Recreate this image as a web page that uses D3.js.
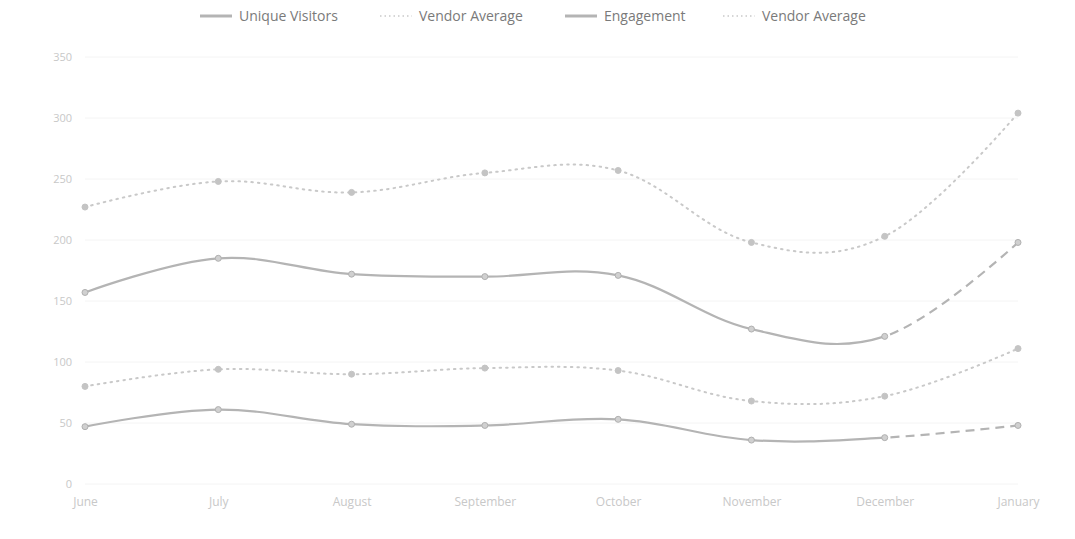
<!DOCTYPE html>
<html>
<head>
<meta charset="utf-8">
<script src="https://cdn.jsdelivr.net/npm/d3@7/dist/d3.min.js"></script>
<style>
  html, body { margin: 0; padding: 0; background: #fff; }
  svg { display: block; font-family: "Open Sans", "DejaVu Sans", sans-serif; }
</style>
</head>
<body>
<svg id="chart" width="1075" height="539"></svg>
<script>
const months = ["June", "July", "August", "September", "October", "November", "December", "January"];
const uniqueVisitors = [47, 61, 49, 48, 53, 36, 38, 48];
const uniqueVendorAvg = [80, 94, 90, 95, 93, 68, 72, 111];
const engagement = [157, 185, 172, 170, 171, 127, 121, 198];
const engagementVendorAvg = [227, 248, 239, 255, 257, 198, 203, 304];
const yTicks = [0, 50, 100, 150, 200, 250, 300, 350];
const legendLabels = ["Unique Visitors", "Vendor Average", "Engagement", "Vendor Average"];

const svg = d3.select("#chart");
const plotLeft = 85, plotRight = 1018, plotTop = 57, plotBottom = 484;

const x = d3.scalePoint().domain(months).range([plotLeft, plotRight]);
const y = d3.scaleLinear().domain([0, 350]).range([plotBottom, plotTop]);

// grid
svg.append("g").selectAll("line").data(yTicks).join("line")
  .attr("x1", plotLeft).attr("x2", plotRight)
  .attr("y1", d => y(d)).attr("y2", d => y(d))
  .attr("stroke", "#f4f4f4").attr("stroke-width", 1);

// y axis labels
const yAxis = d3.axisLeft(y).tickValues(yTicks).tickSize(0).tickPadding(0);
const yg = svg.append("g").attr("transform", `translate(${plotLeft - 13},0)`).call(yAxis)
  .attr("font-family", "Open Sans, sans-serif");
yg.select(".domain").remove();
yg.selectAll("text").attr("fill", "#c8c8c8").style("font-size", "11px").attr("dy", "0.32em");

// x axis labels
const xAxis = d3.axisBottom(x).tickSize(0).tickPadding(0);
const xg = svg.append("g").attr("transform", `translate(0,${plotBottom + 13})`).call(xAxis)
  .attr("font-family", "Open Sans, sans-serif");
xg.select(".domain").remove();
xg.selectAll("text").attr("fill", "#c8c8c8").style("font-size", "12px").attr("dy", "0.71em");

const defs = svg.append("defs");
const splitX = x("December");
defs.append("clipPath").attr("id", "clipA").append("rect")
  .attr("x", 0).attr("y", 0).attr("width", splitX).attr("height", 539);
defs.append("clipPath").attr("id", "clipB").append("rect")
  .attr("x", splitX).attr("y", 0).attr("width", 1075 - splitX).attr("height", 539);

const line = d3.line()
  .x((d, i) => x(months[i]))
  .y(d => y(d))
  .curve(d3.curveCardinal.tension(-0.1));

const series = [
  { values: engagementVendorAvg, color: "#c9c9c9", dotted: true },
  { values: engagement, color: "#b4b4b4", dotted: false },
  { values: uniqueVendorAvg, color: "#c9c9c9", dotted: true },
  { values: uniqueVisitors, color: "#b4b4b4", dotted: false }
];

series.forEach(s => {
  if (s.dotted) {
    svg.append("path").attr("d", line(s.values))
      .attr("fill", "none").attr("stroke", s.color).attr("stroke-width", 2)
      .attr("stroke-dasharray", "1.5,5").attr("stroke-linecap", "round");
  } else {
    svg.append("path").attr("d", line(s.values)).attr("clip-path", "url(#clipA)")
      .attr("fill", "none").attr("stroke", s.color).attr("stroke-width", 2.2);
    svg.append("path").attr("d", line(s.values)).attr("clip-path", "url(#clipB)")
      .attr("fill", "none").attr("stroke", s.color).attr("stroke-width", 2.2)
      .attr("stroke-dasharray", "9,6");
  }
  svg.append("g").selectAll("circle").data(s.values).join("circle")
    .attr("cx", (d, i) => x(months[i])).attr("cy", d => y(d))
    .attr("r", 3)
    .attr("fill", s.dotted ? "#c4c4c4" : "#d0d0d0")
    .attr("stroke", s.dotted ? "#c4c4c4" : "#b0b0b0").attr("stroke-width", 1);
});

// legend
const legendItems = [
  { label: legendLabels[0], dotted: false, color: "#b4b4b4" },
  { label: legendLabels[1], dotted: true, color: "#c9c9c9" },
  { label: legendLabels[2], dotted: false, color: "#b4b4b4" },
  { label: legendLabels[3], dotted: true, color: "#c9c9c9" }
];
const legendStarts = [200, 380, 565, 723];
const lg = svg.append("g");
legendItems.forEach((it, i) => {
  const gx = legendStarts[i];
  lg.append("line").attr("x1", gx).attr("x2", gx + 32).attr("y1", 16).attr("y2", 16)
    .attr("stroke", it.color).attr("stroke-width", it.dotted ? 1.5 : 3)
    .attr("stroke-dasharray", it.dotted ? "1.5,3" : null);
  lg.append("text").attr("x", gx + 39).attr("y", 16).attr("dy", "0.35em")
    .attr("fill", "#7a7a7a").style("font-size", "14px").text(it.label);
});
</script>
</body>
</html>
